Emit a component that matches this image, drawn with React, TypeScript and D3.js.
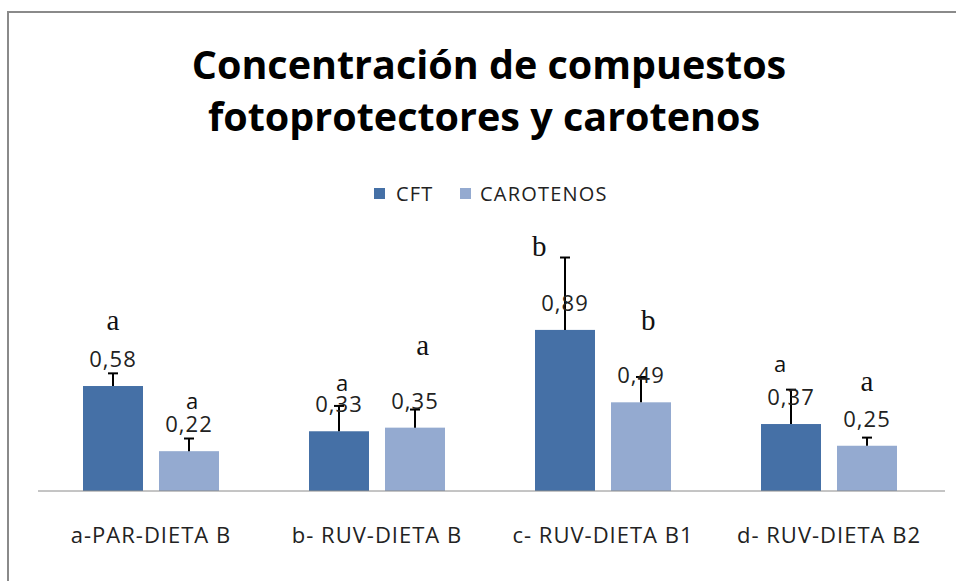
import { useMemo } from 'react'
import * as d3 from 'd3'

const CATEGORIES = ['a-PAR-DIETA B', 'b- RUV-DIETA B', 'c- RUV-DIETA B1', 'd- RUV-DIETA B2']
const SERIES = ['CFT', 'CAROTENOS']
const CFT = [0.58, 0.33, 0.89, 0.37]
const CAROTENOS = [0.22, 0.35, 0.49, 0.25]
const CFT_ERR = [0.07, 0.14, 0.4, 0.19]
const CAROTENOS_ERR = [0.07, 0.1, 0.14, 0.045]

// significance letters: [category index, series index, letter, baseline value, nudge (bar widths), serif]
const LETTERS: [number, number, string, number, number, boolean][] = [
  [0, 0, 'a', 0.89, 0, true],
  [0, 1, 'a', 0.455, 0.05, false],
  [1, 0, 'a', 0.55, 0.05, false],
  [1, 1, 'a', 0.75, 0.13, true],
  [2, 0, 'b', 1.3, -0.43, true],
  [2, 1, 'b', 0.89, 0.12, true],
  [3, 0, 'a', 0.66, -0.18, false],
  [3, 1, 'a', 0.55, 0, true],
]

const COLORS = ['#4570a6', '#94aad0']
const SANS = '"Open Sans", "Noto Sans", sans-serif'
const SERIF = '"Liberation Serif", "DejaVu Serif", serif'

const W = 956
const H = 581

export default function App() {
  const x0 = useMemo(
    () => d3.scaleBand<string>().domain(CATEGORIES).range([38, 942]).paddingInner(90 / 226).paddingOuter(45 / 226),
    [],
  )
  const x1 = useMemo(
    () => d3.scaleBand<string>().domain(SERIES).range([0, x0.bandwidth()]).paddingInner(16 / 76),
    [x0],
  )
  const y = useMemo(() => d3.scaleLinear().domain([0, 1]).range([491, 310]), [])

  const values = [CFT, CAROTENOS]
  const errors = [CFT_ERR, CAROTENOS_ERR]
  const bw = x1.bandwidth()

  return (
    <div style={{ position: 'absolute', left: 0, top: 0 }}>
      <svg width={W} height={H} style={{ display: 'block', background: '#fff' }}>
        <line x1={7} x2={W} y1={12} y2={12} stroke="#8a8a8a" strokeWidth={2} />
        <line x1={8} x2={8} y1={12} y2={H} stroke="#8a8a8a" strokeWidth={2} />

        <g fontFamily={SANS} fontWeight={700} fontSize={39.5} textAnchor="middle" fill="#000">
          <text x={489} y={79}>Concentración de compuestos</text>
          <text x={484} y={131}>fotoprotectores y carotenos</text>
        </g>

        <g fontFamily={SANS} fontSize={20} letterSpacing={1.2} fill="#222">
          <rect x={374} y={188} width={11} height={11} fill={COLORS[0]} />
          <text x={396} y={201}>CFT</text>
          <rect x={460} y={188} width={11} height={11} fill={COLORS[1]} />
          <text x={480} y={201}>CAROTENOS</text>
        </g>

        {CATEGORIES.map((cat, ci) => (
          <g key={cat} transform={`translate(${x0(cat)},0)`}>
            {SERIES.map((s, si) => {
              const v = values[si][ci]
              const e = errors[si][ci]
              const bx = x1(s) ?? 0
              const cx = bx + bw / 2
              return (
                <g key={s}>
                  <rect x={bx} y={y(v)} width={bw} height={y(0) - y(v)} fill={COLORS[si]} />
                  <line x1={cx} x2={cx} y1={y(v)} y2={y(v + e)} stroke="#000" strokeWidth={2} />
                  <line x1={cx - 5} x2={cx + 5} y1={y(v + e)} y2={y(v + e)} stroke="#000" strokeWidth={2} />
                  <text
                    x={cx}
                    y={y(v) - 19}
                    textAnchor="middle"
                    fontFamily={SANS}
                    fontSize={22}
                    letterSpacing={1}
                    fill="#222"
                  >
                    {d3.format('.2f')(v).replace('.', ',')}
                  </text>
                </g>
              )
            })}
          </g>
        ))}

        {LETTERS.map(([ci, si, letter, v, nudge, serif], i) => (
          <text
            key={i}
            x={(x0(CATEGORIES[ci]) ?? 0) + (x1(SERIES[si]) ?? 0) + bw / 2 + nudge * bw}
            y={y(v)}
            textAnchor="middle"
            fontFamily={serif ? SERIF : SANS}
            fontSize={serif ? 29 : 22}
            fill="#111"
          >
            {letter}
          </text>
        ))}

        <line x1={38} x2={945} y1={y(0)} y2={y(0)} stroke="#8a8a8a" strokeWidth={1} />

        <g fontFamily={SANS} fontSize={22} letterSpacing={1} fill="#222" textAnchor="middle">
          {CATEGORIES.map((cat) => (
            <text key={cat} x={(x0(cat) ?? 0) + x0.bandwidth() / 2} y={543}>
              {cat}
            </text>
          ))}
        </g>
      </svg>
    </div>
  )
}
